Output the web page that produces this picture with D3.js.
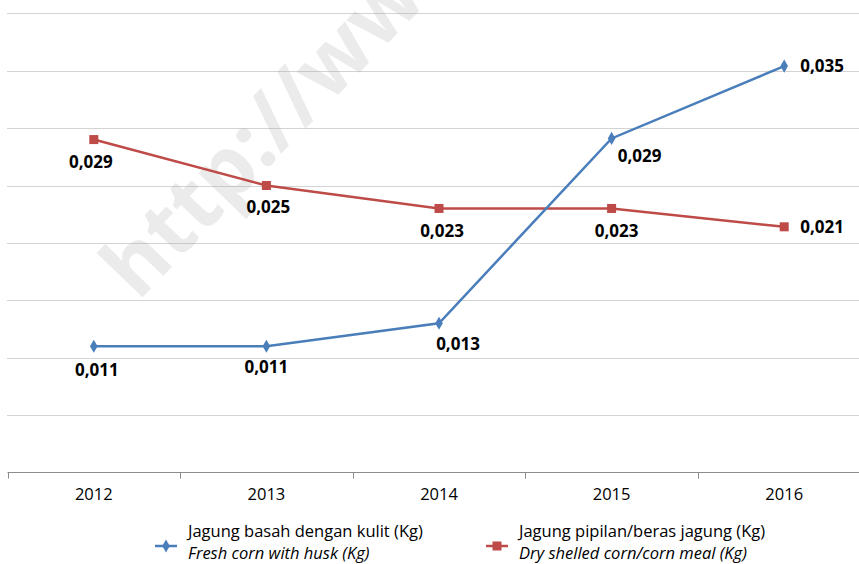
<!DOCTYPE html>
<html>
<head>
<meta charset="utf-8">
<script src="https://cdn.jsdelivr.net/npm/d3@7"></script>
<style>
  html, body { margin: 0; padding: 0; background: #fff; }
  svg { display: block; }
</style>
</head>
<body>
<svg id="chart" width="859" height="564"></svg>
<script>
// ---- data ----
const years = ["2012", "2013", "2014", "2015", "2016"];
const freshCorn = [0.0110, 0.0110, 0.0130, 0.0291, 0.0354];
const dryCorn = [0.0290, 0.0250, 0.0230, 0.0230, 0.0214];
const freshLabels = ["0,011", "0,011", "0,013", "0,029", "0,035"];
const dryLabels = ["0,029", "0,025", "0,023", "0,023", "0,021"];
const yTicks = [0.005, 0.010, 0.015, 0.020, 0.025, 0.030, 0.035, 0.040];
const seriesNames = [
  ["Jagung basah dengan kulit (Kg)", "Fresh corn with husk (Kg)"],
  ["Jagung pipilan/beras  jagung (Kg)", "Dry shelled corn/corn meal (Kg)"]
];

// label placement (layout): [dx, dy] relative to point, and anchor
const freshLabelPlace = [[3, 24, "middle"], [0, 21, "middle"], [19, 21, "middle"], [28, 17, "middle"], [16, 0, "start"]];
const dryLabelPlace = [[-3, 22, "middle"], [2, 21, "middle"], [3, 22, "middle"], [5, 22, "middle"], [16, 0, "start"]];

const blue = "#4A7EBB";
const red = "#BE4B48";

const svg = d3.select("#chart");

const x = d3.scaleBand().domain(years).range([7.5, 870.5]);
const y = d3.scaleLinear().domain([0, 0.04]).range([472.5, 13.3]);
const cx = d => x(d) + x.bandwidth() / 2;

// watermark
svg.append("text")
  .attr("transform", "translate(138,302) rotate(-46)")
  .attr("font-family", "'Open Sans', sans-serif")
  .attr("font-weight", "bold")
  .attr("font-size", 84)
  .attr("fill", "#ebebeb")
  .text("http://www");

// gridlines
svg.append("g")
  .selectAll("line")
  .data(yTicks)
  .join("line")
  .attr("x1", 7.5).attr("x2", 859)
  .attr("y1", d => Math.round(y(d)) + 0.5)
  .attr("y2", d => Math.round(y(d)) + 0.5)
  .attr("stroke", "#a6a6a6")
  .attr("stroke-width", 1)
  .attr("stroke-dasharray", "1,1");

// x axis
const xAxis = d3.axisBottom(x).tickSize(0).tickPadding(16);
const gx = svg.append("g")
  .attr("transform", "translate(0,472.5)")
  .call(xAxis);
gx.select(".domain").attr("stroke", "#8c8c8c").attr("d", "M7.5,0H870.5");
gx.selectAll(".tick text")
  .attr("font-family", "'Open Sans', sans-serif")
  .attr("font-size", 16.5)
  .attr("fill", "#000")
  .attr("dy", "0.71em");
// category boundary ticks
const bounds = years.map(d => x(d)).concat([x(years[years.length - 1]) + x.bandwidth()]);
gx.append("g").selectAll("line")
  .data(bounds)
  .join("line")
  .attr("x1", d => Math.round(d) + 0.5).attr("x2", d => Math.round(d) + 0.5)
  .attr("y1", 0).attr("y2", 6)
  .attr("stroke", "#8c8c8c");

const line = d3.line().x((d, i) => cx(years[i])).y(d => y(d));

// dry series
svg.append("path")
  .datum(dryCorn)
  .attr("d", line)
  .attr("fill", "none")
  .attr("stroke", red)
  .attr("stroke-width", 2.5);
svg.append("g").selectAll("rect")
  .data(dryCorn)
  .join("rect")
  .attr("x", (d, i) => cx(years[i]) - 4.5)
  .attr("y", d => y(d) - 4.5)
  .attr("width", 9).attr("height", 9)
  .attr("fill", red);

// fresh series
svg.append("path")
  .datum(freshCorn)
  .attr("d", line)
  .attr("fill", "none")
  .attr("stroke", blue)
  .attr("stroke-width", 2.5);
const diamond = d3.symbol().type(d3.symbolDiamond).size(50);
svg.append("g").selectAll("path")
  .data(freshCorn)
  .join("path")
  .attr("d", diamond)
  .attr("transform", (d, i) => `translate(${cx(years[i])},${y(d)})`)
  .attr("fill", blue);

// data labels
function drawLabels(vals, labels, place) {
  svg.append("g").selectAll("text")
    .data(vals)
    .join("text")
    .attr("x", (d, i) => cx(years[i]) + place[i][0])
    .attr("y", (d, i) => y(d) + place[i][1])
    .attr("dy", "0.36em")
    .attr("text-anchor", (d, i) => place[i][2])
    .attr("font-family", "'Open Sans', sans-serif")
    .attr("font-weight", "bold")
    .attr("font-size", 17)
    .attr("fill", "#000")
    .text((d, i) => labels[i]);
}
drawLabels(dryCorn, dryLabels, dryLabelPlace);
drawLabels(freshCorn, freshLabels, freshLabelPlace);

// legend
const legendItems = [
  { x: 155, color: blue, kind: "diamond", names: seriesNames[0] },
  { x: 486, color: red, kind: "square", names: seriesNames[1] }
];
legendItems.forEach(it => {
  const g = svg.append("g");
  g.append("line")
    .attr("x1", it.x).attr("x2", it.x + 22)
    .attr("y1", 546).attr("y2", 546)
    .attr("stroke", it.color).attr("stroke-width", 2.5);
  if (it.kind === "diamond") {
    g.append("path").attr("d", diamond)
      .attr("transform", `translate(${it.x + 11},546)`)
      .attr("fill", it.color);
  } else {
    g.append("rect").attr("x", it.x + 6.5).attr("y", 541.5)
      .attr("width", 9).attr("height", 9).attr("fill", it.color);
  }
  g.append("text")
    .attr("x", it.x + 33).attr("y", 537)
    .attr("font-family", "'Open Sans', sans-serif")
    .attr("font-size", 16.5)
    .attr("fill", "#000")
    .text(it.names[0]);
  g.append("text")
    .attr("x", it.x + 33).attr("y", 559)
    .attr("font-family", "'Open Sans', sans-serif")
    .attr("font-style", "italic")
    .attr("font-size", 16.5)
    .attr("fill", "#000")
    .text(it.names[1]);
});
</script>
</body>
</html>
